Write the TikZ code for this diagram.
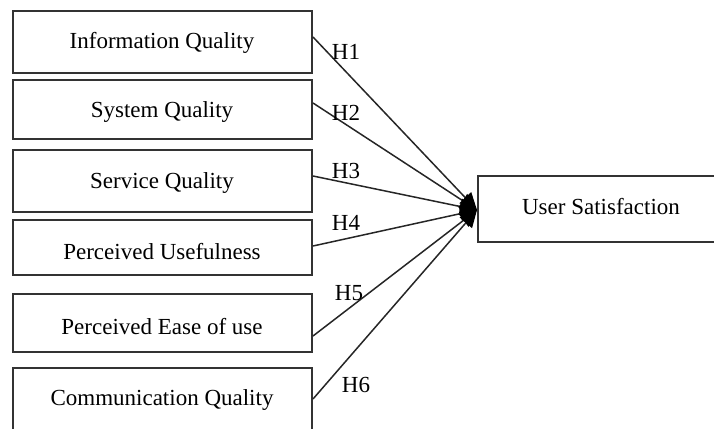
\documentclass[tikz,border=0pt]{standalone}
\usepackage{fontspec}
\setmainfont{Liberation Serif}
\usetikzlibrary{arrows.meta}
\begin{document}
\begin{tikzpicture}[x=0.5pt,y=-0.5pt,
  box/.style={draw=black!80, line width=0.7pt},
  lbl/.style={font=\fontsize{11.5}{13}\selectfont, inner sep=0pt},
  link/.style={draw=black!85, line width=0.75pt, -{Triangle[length=8.5pt,width=8pt,fill=black,color=black]}},
  hyp/.style={font=\fontsize{11.5}{13}\selectfont, inner sep=0pt}]
\useasboundingbox (0,0) rectangle (714,429);
\clip (0,0) rectangle (714,429);
% left boxes
\draw[box] (13,11) rectangle (312,73);
\draw[box] (13,80) rectangle (312,139);
\draw[box] (13,150) rectangle (312,212);
\draw[box] (13,220) rectangle (312,275);
\draw[box] (13,294) rectangle (312,352);
\draw[box] (13,368) rectangle (312,440);
% right box
\draw[box] (478,176) rectangle (720,242);
% texts
\node[lbl] (iq) at (162,43) {Information Quality};
\node[lbl] (sq) at (162,112) {System Quality};
\node[lbl] (svq) at (162,183) {Service Quality};
\node[lbl] (pu) at (162,252) {Perceived Usefulness};
\node[lbl] (pe) at (162,327) {Perceived Ease of use};
\node[lbl] (cq) at (162,400) {Communication Quality};
\node[lbl] (us) at (601,207) {User Satisfaction};
% connector anchor points
\coordinate (a1) at (313,37);
\coordinate (a2) at (313,103);
\coordinate (a3) at (313,176);
\coordinate (a4) at (313,246);
\coordinate (a5) at (313,336);
\coordinate (a6) at (313,399);
\coordinate (t) at (477,210);
\foreach \i in {1,...,6} \draw[link] (a\i) -- (t);
% hypothesis labels
\node[hyp] (h1) at (346,52) {H1};
\node[hyp] (h2) at (346,113) {H2};
\node[hyp] (h3) at (346,171) {H3};
\node[hyp] (h4) at (346,223) {H4};
\node[hyp] (h5) at (349,293) {H5};
\node[hyp] (h6) at (356,385) {H6};
\end{tikzpicture}
\end{document}
